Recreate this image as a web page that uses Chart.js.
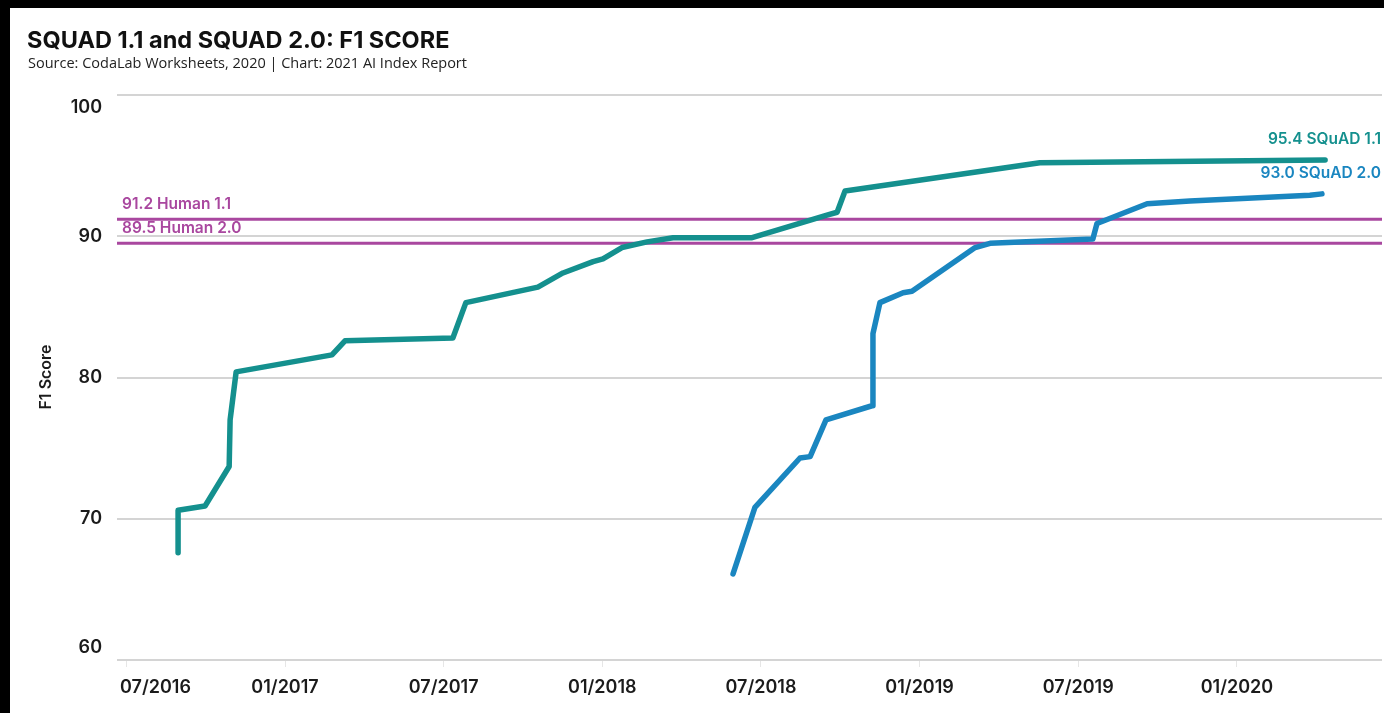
<!DOCTYPE html>
<html>
<head>
<meta charset="utf-8">
<script src="https://cdn.jsdelivr.net/npm/chart.js@4.4.1/dist/chart.umd.min.js"></script>
<style>
  html, body { margin: 0; padding: 0; background: #fff; }
  #wrap { position: relative; width: 1384px; height: 713px; }
</style>
</head>
<body>
<div id="wrap"><canvas id="c" width="1384" height="713"></canvas></div>
<script>
// Dates are decimal years (2017.0 = 01/2017, 2017.5 = 07/2017)
const squad11Dates = [2016.663, 2016.663, 2016.748, 2016.824, 2016.827, 2016.846, 2017.148, 2017.189,
  2017.529, 2017.570, 2017.797, 2017.876, 2017.971, 2018.002, 2018.062, 2018.141, 2018.223,
  2018.472, 2018.708, 2018.740, 2018.765, 2019.379, 2020.278];
const squad11F1 = [67.6, 70.6, 70.9, 73.7, 77.0, 80.4, 81.6, 82.6,
  82.8, 85.3, 86.4, 87.4, 88.2, 88.4, 89.2, 89.6, 89.9,
  89.9, 91.5, 91.7, 93.2, 95.2, 95.4];

const squad20Dates = [2018.412, 2018.481, 2018.623, 2018.655, 2018.705, 2018.850, 2018.853, 2018.875,
  2018.948, 2018.976, 2019.175, 2019.222, 2019.546, 2019.559, 2019.717, 2019.852, 2020.230, 2020.268];
const squad20F1 = [66.1, 70.8, 74.3, 74.4, 77.0, 78.0, 83.1, 85.3,
  86.0, 86.1, 89.2, 89.5, 89.8, 90.9, 92.3, 92.5, 92.9, 93.0];

const humanBaselines = [91.2, 89.5];
const humanLabels = ['Human 1.1', 'Human 2.0'];
const seriesLabels = ['SQuAD 1.1', 'SQuAD 2.0'];

const xTickValues = [2016.5, 2017.0, 2017.5, 2018.0, 2018.5, 2019.0, 2019.5, 2020.0];
const xTickLabels = ['07/2016', '01/2017', '07/2017', '01/2018', '07/2018', '01/2019', '07/2019', '01/2020'];
const yTickValues = [60, 70, 80, 90, 100];

const xMin = 2016.4705, xMax = 2020.4573;

const TEAL = '#14908e';
const BLUE = '#1a86c0';
const PURPLE = '#a9479f';

const toPoints = (xs, ys) => xs.map((d, i) => ({ x: d, y: ys[i] }));

const frame = {
  id: 'frame',
  beforeDraw(chart) {
    const ctx = chart.ctx;
    ctx.save();
    ctx.fillStyle = '#ffffff';
    ctx.fillRect(0, 0, chart.width, chart.height);
    ctx.fillStyle = '#000000';
    ctx.fillRect(0, 0, 10, chart.height);
    ctx.fillRect(0, 0, chart.width, 8);
    ctx.restore();
  }
};

const texts = {
  id: 'texts',
  afterDraw(chart) {
    const { ctx, chartArea: a, scales: { x, y } } = chart;
    ctx.save();

    // heading
    ctx.fillStyle = '#111111';
    ctx.textAlign = 'left';
    ctx.textBaseline = 'middle';
    ctx.font = '700 23.5px Inter, "Open Sans", sans-serif';
    ctx.fillText('SQUAD 1.1 and SQUAD 2.0: F1 SCORE', 27, 41);
    ctx.fillStyle = '#222222';
    ctx.font = '14.5px "Open Sans", sans-serif';
    ctx.fillText('Source: CodaLab Worksheets, 2020 | Chart: 2021 AI Index Report', 28, 64);

    // y tick labels, edge labels kept inside the plot height
    ctx.fillStyle = '#1b1b1b';
    ctx.font = '600 18px Inter, sans-serif';
    ctx.textAlign = 'right';
    yTickValues.forEach(v => {
      let py = y.getPixelForValue(v);
      py = Math.min(Math.max(py, a.top + 13), a.bottom - 12);
      ctx.fillText(String(v), 102, py);
    });

    // x tick labels
    ctx.textAlign = 'center';
    xTickValues.forEach((v, i) => {
      const w = ctx.measureText(xTickLabels[i]).width;
      let px = x.getPixelForValue(v);
      px = Math.max(px, a.left + 3 + w / 2);
      ctx.fillText(xTickLabels[i], px, 688);
    });

    // y axis title
    ctx.save();
    ctx.translate(46, 377);
    ctx.rotate(-Math.PI / 2);
    ctx.font = '600 16px Inter, sans-serif';
    ctx.fillStyle = '#1b1b1b';
    ctx.fillText('F1 Score', 0, 0);
    ctx.restore();

    // human baseline labels
    ctx.textAlign = 'left';
    ctx.font = '600 15.5px Inter, sans-serif';
    ctx.fillStyle = PURPLE;
    humanBaselines.forEach((v, i) => {
      const py = y.getPixelForValue(v);
      ctx.fillText(v.toFixed(1) + ' ' + humanLabels[i], a.left + 5, py - 15);
    });

    // series end labels
    ctx.textAlign = 'right';
    ctx.font = '600 15.5px Inter, sans-serif';
    const ends = [
      { v: squad11F1[squad11F1.length - 1], c: TEAL, label: seriesLabels[0] },
      { v: squad20F1[squad20F1.length - 1], c: BLUE, label: seriesLabels[1] }
    ];
    ends.forEach(e => {
      const py = y.getPixelForValue(e.v);
      ctx.fillStyle = e.c;
      ctx.fillText(e.v.toFixed(1) + ' ' + e.label, 1381, py - 21);
    });

    ctx.restore();
  }
};

const lineStyle = { pointRadius: 0, tension: 0, borderJoinStyle: 'round', borderCapStyle: 'round', fill: false };

new Chart(document.getElementById('c'), {
  type: 'line',
  data: {
    datasets: [
      { label: seriesLabels[0], data: toPoints(squad11Dates, squad11F1), borderColor: TEAL, borderWidth: 5.5, order: 1, ...lineStyle },
      { label: seriesLabels[1], data: toPoints(squad20Dates, squad20F1), borderColor: BLUE, borderWidth: 5.5, order: 2, ...lineStyle },
      { label: humanLabels[0], data: [{ x: xMin, y: humanBaselines[0] }, { x: xMax, y: humanBaselines[0] }], borderColor: PURPLE, borderWidth: 3, order: 3, ...lineStyle },
      { label: humanLabels[1], data: [{ x: xMin, y: humanBaselines[1] }, { x: xMax, y: humanBaselines[1] }], borderColor: PURPLE, borderWidth: 3, order: 4, ...lineStyle }
    ]
  },
  options: {
    responsive: false,
    animation: false,
    devicePixelRatio: 1,
    layout: { padding: { top: 95, right: 2, left: 0, bottom: 0 } },
    plugins: { legend: { display: false }, tooltip: { enabled: false }, title: { display: false } },
    scales: {
      x: {
        type: 'linear',
        min: xMin,
        max: xMax,
        afterBuildTicks: s => { s.ticks = xTickValues.map(v => ({ value: v })); },
        afterFit: s => { s.height = 53; },
        ticks: { display: false },
        grid: { drawOnChartArea: false, drawTicks: true, tickLength: 7, color: '#e6e6e6', lineWidth: 1 },
        border: { display: false }
      },
      y: {
        type: 'linear',
        min: 60,
        max: 100,
        afterBuildTicks: s => { s.ticks = yTickValues.map(v => ({ value: v })); },
        afterFit: s => { s.width = 117; },
        ticks: { display: false },
        grid: { color: '#d4d4d4', lineWidth: 2, drawTicks: false },
        border: { display: false }
      }
    }
  },
  plugins: [frame, texts]
});
</script>
</body>
</html>
